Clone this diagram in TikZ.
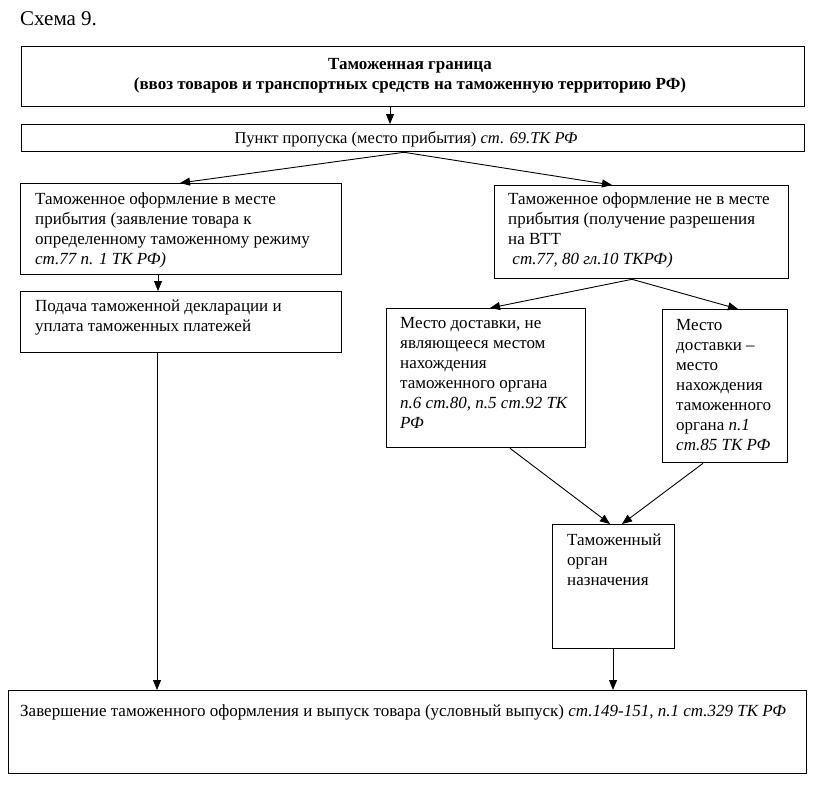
\documentclass[tikz,border=0pt]{standalone}
\usepackage{fontspec}
\setmainfont{Liberation Serif}
\usetikzlibrary{arrows.meta}
\begin{document}
\begin{tikzpicture}[x=1pt,y=-1pt,
  box/.style={draw, line width=1.3pt, inner sep=0pt, anchor=north west},
  txt/.style={anchor=north west, inner sep=0pt, align=left, font=\fontsize{17}{20}\selectfont},
  arr/.style={-{Triangle[length=10pt,width=8pt]}, line width=0.9pt}]
\useasboundingbox (0,0) rectangle (818,785);
\node[anchor=north west, inner sep=0pt, font=\fontsize{21}{24}\selectfont] (title) at (20,11) {Схема 9.};
% boxes
\node[box, minimum width=783pt, minimum height=60pt] (top) at (21,46) {};
\node[box, minimum width=783pt, minimum height=27pt] (p) at (21,124) {};
\node[box, minimum width=321pt, minimum height=91pt] (b1) at (20,183) {};
\node[box, minimum width=321pt, minimum height=61pt] (pod) at (20,291) {};
\node[box, minimum width=294pt, minimum height=93pt] (r) at (494,185) {};
\node[box, minimum width=199pt, minimum height=139pt] (A) at (386,308) {};
\node[box, minimum width=125pt, minimum height=153pt] (B) at (662,309) {};
\node[box, minimum width=122pt, minimum height=124pt] (C) at (552,524) {};
\node[box, minimum width=798pt, minimum height=83pt] (fin) at (8,690) {};
% texts
\node[align=center, inner sep=0pt, font=\fontsize{17}{20}\selectfont\bfseries] (topt) at (410,76)
  {Таможенная граница\\(ввоз товаров и транспортных средств на таможенную территорию РФ)};
\node[inner sep=0pt, font=\fontsize{16.5}{20}\selectfont] (pt) at (406,139)
  {Пункт пропуска (место прибытия) \textit{ст. 69.ТК РФ}};
\node[txt] (b1t) at (35,192) {Таможенное оформление в месте\\прибытия (заявление товара к\\определенному таможенному режиму\\\textit{ст.77 п. 1 ТК РФ)}};
\node[txt] (podt) at (35,300) {Подача таможенной декларации и\\уплата таможенных платежей};
\node[txt] (rt) at (508,192) {Таможенное оформление не в месте\\прибытия (получение разрешения\\на ВТТ\\\ \textit{ст.77, 80 гл.10 ТКРФ)}};
\node[txt] (At) at (400,317) {Место доставки, не\\являющееся местом\\нахождения\\таможенного органа\\\textit{п.6 ст.80, п.5 ст.92 ТК}\\\textit{РФ}};
\node[txt] (Bt) at (676,319) {Место\\доставки –\\место\\нахождения\\таможенного\\органа \textit{п.1}\\\textit{ст.85 ТК РФ}};
\node[txt] (Ct) at (567,534) {Таможенный\\орган\\назначения};
\node[txt] (fint) at (20,704) {Завершение таможенного оформления и выпуск товара (условный выпуск) \textit{ст.149-151, п.1 ст.329 ТК РФ}};
% connectors
\draw[arr] (390,0 |- top.south) -- (390,0 |- p.north);
\draw[arr] (404,0 |- p.south) -- (180,0 |- b1.north);
\draw[arr] (404,0 |- p.south) -- (612,0 |- r.north);
\draw[arr] (158,0 |- b1.south) -- (158,0 |- pod.north);
\draw[arr] (157,0 |- pod.south) -- (157,0 |- fin.north);
\draw[arr] (632,0 |- r.south) -- (490,0 |- A.north);
\draw[arr] (632,0 |- r.south) -- (738,0 |- B.north);
\draw[arr] (510,0 |- A.south) -- (610,0 |- C.north);
\draw[arr] (703,0 |- B.south) -- (622,0 |- C.north);
\draw[arr] (613,0 |- C.south) -- (613,0 |- fin.north);
\end{tikzpicture}
\end{document}
